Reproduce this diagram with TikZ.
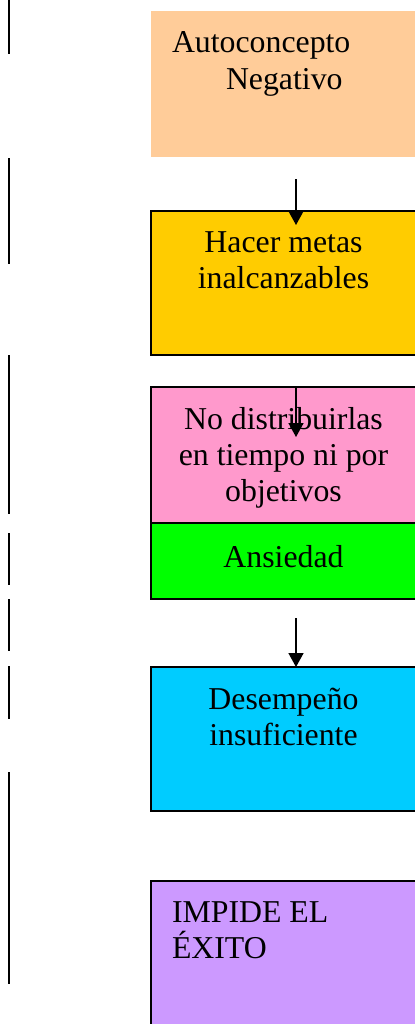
\documentclass[tikz,border=0pt]{standalone}
\usepackage{fontspec}
\setmainfont{Liberation Serif}
\usepackage{tikz}
\usetikzlibrary{arrows.meta,positioning}
\definecolor{boxpeach}{RGB}{255,204,153}
\definecolor{boxgold}{RGB}{255,204,0}
\definecolor{boxpink}{RGB}{255,153,204}
\definecolor{boxgreen}{RGB}{0,255,0}
\definecolor{boxcyan}{RGB}{0,204,255}
\definecolor{boxlilac}{RGB}{204,153,255}
\tikzstyle{stage} = [rectangle, minimum width=132.5pt, inner sep=0pt, outer sep=0pt, draw=black, line width=1pt]
\tikzstyle{stagetext} = [inner sep=0pt, outer sep=0pt, align=center, font=\fontsize{15.9}{18}\selectfont]
\tikzstyle{arrow} = [line width=0.8pt, -{Triangle[length=7pt,width=7.5pt]}]

\begin{document}
\begin{tikzpicture}[x=1pt, y=-1pt]
\useasboundingbox (0,0) rectangle (207,512);

% Left rules
\foreach \ya/\yb in {0/27, 79/132, 177.5/257, 266.5/292.5, 299.5/325.5, 333/359.5, 386/492}
  \draw[line width=1pt] (4.5,\ya) -- (4.5,\yb);

% Boxes
\node (autoc) [stage, draw=none, fill=boxpeach, minimum height=73pt, anchor=north west] at (75.5,5.5) {};
\node (metas) [stage, fill=boxgold, minimum height=72pt, below=27pt of autoc] {};
\node (distrib) [stage, fill=boxpink, minimum height=68pt, below=16pt of metas] {};
\node (ansied) [stage, fill=boxgreen, minimum height=38pt, below=0pt of distrib] {};
\node (desemp) [stage, fill=boxcyan, minimum height=72pt, below=34pt of ansied] {};
\node (impide) [stage, fill=boxlilac, minimum height=80pt, below=35pt of desemp] {};

% Texts
\node (autoc-t) [stagetext, align=left, below right=10.5pt and 10.5pt of autoc.north west] {Autoconcepto\\\hspace*{27pt}Negativo};
\node (metas-t) [stagetext, below=10.5pt of metas.north] {Hacer metas\\inalcanzables};
\node (distrib-t) [stagetext, below=10pt of distrib.north] {No distribuirlas\\en tiempo ni por\\objetivos};
\node (ansied-t) [stagetext, below=11pt of ansied.north] {Ansiedad};
\node (desemp-t) [stagetext, below=10.5pt of desemp.north] {Desempeño\\insuficiente};
\node (impide-t) [stagetext, align=left, below right=10.5pt and 10.5pt of impide.north west] {IMPIDE EL\\ÉXITO};

% Arrows
\draw[arrow, shorten <=11pt, shorten >=-7pt] ([xshift=6.25pt]autoc.south) -- ([xshift=6.25pt]metas.north);
\draw[arrow, shorten <=16pt, shorten >=-25pt] ([xshift=6.25pt]metas.south) -- ([xshift=6.25pt]distrib.north);
\draw[arrow, shorten <=9.5pt] ([xshift=6.25pt]ansied.south) -- ([xshift=6.25pt]desemp.north);
\end{tikzpicture}
\end{document}
